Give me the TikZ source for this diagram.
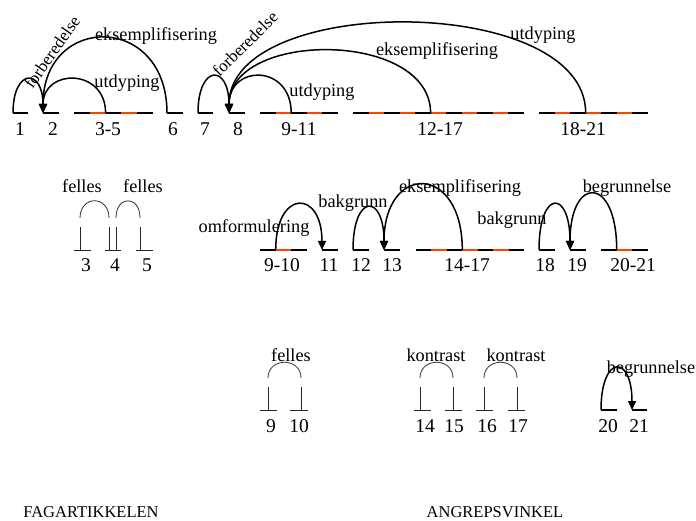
\documentclass[tikz,border=0pt]{standalone}
\usepackage{fontspec}
\setmainfont{Liberation Serif}
\usetikzlibrary{arrows.meta}
\definecolor{segred}{RGB}{255,69,0}
\newcommand\compseg[4]{%
  \draw[seg] (#1,#3) -- (#2,#3);
  \pgfmathsetmacro\segw{(#2-#1)/(2*#4+1)}
  \foreach \k in {1,...,#4}{
    \draw[redseg] ({#1+(2*\k-1)*\segw},#3) -- ({#1+2*\k*\segw},#3);
  }
}
\begin{document}
\begin{tikzpicture}[x=1pt,y=-1pt,
  arcline/.style={line width=1.5pt},
  arrowarc/.style={line width=1.5pt,-{Triangle[length=9pt,width=8pt]}},
  thinarc/.style={line width=0.8pt,draw=black!80},
  tee/.style={line width=0.9pt,draw=black!85},
  seg/.style={line width=1.5pt},
  redseg/.style={line width=1.5pt,draw=segred},
  num/.style={font=\fontsize{19.5}{20}\selectfont,anchor=base,inner sep=0pt},
  lab/.style={font=\fontsize{18.3}{19}\selectfont,anchor=base,inner sep=0pt},
  rlab/.style={font=\fontsize{17}{18}\selectfont,inner sep=0pt},
  ttl/.style={font=\fontsize{16.5}{17}\selectfont,anchor=base,inner sep=0pt}]
\useasboundingbox (0,0) rectangle (696,521);

% ================= Row 1 =================
\draw[seg] (13,113) -- (28,113);
\draw[seg] (43,113) -- (59,113);
\compseg{74}{153}{113}{2}
\draw[seg] (167,113) -- (183,113);
\draw[seg] (198,113) -- (213,113);
\draw[seg] (229,113) -- (245,113);
\compseg{260}{338}{113}{2}
\compseg{353}{524}{113}{5}
\compseg{539}{648}{113}{3}

\coordinate (a1) at (13,113);
\coordinate (a2) at (43,113);
\coordinate (a35) at (105.6,113);
\coordinate (a6) at (167,113);
\coordinate (a7) at (198,113);
\coordinate (a8) at (229,113);
\coordinate (a911) at (291.2,113);
\coordinate (a1217) at (430.6,113);
\coordinate (a1821) at (585.7,113);

\draw[arrowarc] (a1) .. controls +(0,-45) and +(0,-45) .. (a2);
\draw[arrowarc] (a35) .. controls +(0,-45) and +(0,-45) .. (a2);
\draw[arrowarc] (a6) .. controls +(0,-100) and +(0,-100) .. (a2);
\draw[arrowarc] (a7) .. controls +(0,-49) and +(0,-49) .. (a8);
\draw[arrowarc] (a911) .. controls +(0,-49) and +(0,-49) .. (a8);
\draw[arrowarc] (a1217) .. controls +(0,-83) and +(0,-83) .. (a8);
\draw[arrowarc] (a1821) .. controls +(0,-120) and +(0,-120) .. (a8);

\node[rlab,rotate=55] (l1) at (52,52) {forberedelse};
\node[lab] (l2) at (156,41) {eksemplifisering};
\node[lab] (l3) at (127,88) {utdyping};
\node[rlab,rotate=45] (l4) at (245,44) {forberedelse};
\node[lab] (l5) at (322,97) {utdyping};
\node[lab] (l6) at (437,56) {eksemplifisering};
\node[lab] (l7) at (543,40) {utdyping};

\node[num] (n1) at (20,136) {1};
\node[num] (n2) at (53,136) {2};
\node[num] (n35) at (108,136) {3-5};
\node[num] (n6) at (173,136) {6};
\node[num] (n7) at (205,136) {7};
\node[num] (n8) at (238,136) {8};
\node[num] (n911) at (299,136) {9-11};
\node[num] (n1217) at (440,136) {12-17};
\node[num] (n1821) at (583,136) {18-21};

% ================= Row 2 =================
% left tees
\draw[tee] (74,250) -- (91,250);
\draw[tee] (80,227) -- (80,250);
\draw[tee] (105,250) -- (121,250);
\draw[tee] (109,227) -- (109,250);
\draw[tee] (116,227) -- (116,250);
\draw[tee] (136,250) -- (153,250);
\draw[tee] (140,227) -- (140,250);
\coordinate (b3) at (80,218);
\coordinate (b4a) at (109,218);
\coordinate (b4b) at (116,218);
\coordinate (b5) at (140,218);
\draw[thinarc] (b3) .. controls +(0,-23) and +(0,-23) .. (b4a);
\draw[thinarc] (b4b) .. controls +(0,-23) and +(0,-23) .. (b5);
\node[lab] (m1) at (82,193) {felles};
\node[lab] (m2) at (143,193) {felles};
\node[num] (p3) at (86,272) {3};
\node[num] (p4) at (115,272) {4};
\node[num] (p5) at (147,272) {5};

% right part
\compseg{260}{307}{250}{1}
\draw[seg] (322,250) -- (338,250);
\draw[seg] (353,250) -- (369,250);
\draw[seg] (384,250) -- (400,250);
\compseg{416}{524}{250}{3}
\draw[seg] (539,250) -- (555,250);
\draw[seg] (570,250) -- (586,250);
\compseg{601}{648}{250}{1}

\coordinate (c910) at (275.7,250);
\coordinate (c11) at (322,250);
\coordinate (c12) at (353,250);
\coordinate (c13) at (384,250);
\coordinate (c1417) at (462.3,250);
\coordinate (c18) at (539,250);
\coordinate (c19) at (570,250);
\coordinate (c2021) at (616.7,250);

\draw[arrowarc] (c910) .. controls +(0,-61) and +(0,-61) .. (c11);
\draw[arrowarc] (c12) .. controls +(0,-57) and +(0,-57) .. (c13);
\draw[arrowarc] (c1417) .. controls +(0,-87) and +(0,-87) .. (c13);
\draw[arrowarc] (c18) .. controls +(0,-61) and +(0,-61) .. (c19);
\draw[arrowarc] (c2021) .. controls +(0,-75) and +(0,-75) .. (c19);

\node[lab] (m3) at (254,233) {omformulering};
\node[lab] (m4) at (353,208) {bakgrunn};
\node[lab] (m5) at (460,193) {eksemplifisering};
\node[lab] (m6) at (512,225) {bakgrunn};
\node[lab] (m7) at (627,193) {begrunnelse};

\node[num] (p910) at (282,272) {9-10};
\node[num] (p11) at (329,272) {11};
\node[num] (p12) at (361,272) {12};
\node[num] (p13) at (392,272) {13};
\node[num] (p1417) at (467,272) {14-17};
\node[num] (p18) at (545,272) {18};
\node[num] (p19) at (577,272) {19};
\node[num] (p2021) at (633,272) {20-21};

% ================= Row 3 =================
\draw[tee] (260,410) -- (277,410);
\draw[tee] (268,387) -- (268,410);
\draw[tee] (290,410) -- (308,410);
\draw[tee] (301,387) -- (301,410);
\draw[tee] (414,410) -- (431,410);
\draw[tee] (420,387) -- (420,410);
\draw[tee] (445,410) -- (462,410);
\draw[tee] (453,387) -- (453,410);
\draw[tee] (476,410) -- (493,410);
\draw[tee] (484,387) -- (484,410);
\draw[tee] (508,410) -- (525,410);
\draw[tee] (517,387) -- (517,410);
\coordinate (d9) at (268,378);
\coordinate (d10) at (301,378);
\coordinate (d14) at (420,378);
\coordinate (d15) at (453,378);
\coordinate (d16) at (484,378);
\coordinate (d17) at (517,378);
\draw[thinarc] (d9) .. controls +(0,-21) and +(0,-21) .. (d10);
\draw[thinarc] (d14) .. controls +(0,-21) and +(0,-21) .. (d15);
\draw[thinarc] (d16) .. controls +(0,-21) and +(0,-21) .. (d17);

\draw[seg] (601,410) -- (617,410);
\draw[seg] (632,410) -- (647,410);
\coordinate (d20) at (601,410);
\coordinate (d21) at (632,410);
\draw[arrowarc] (d20) .. controls +(0,-56) and +(0,-56) .. (d21);

\node[lab] (q1) at (291,361) {felles};
\node[lab] (q2) at (436,361) {kontrast};
\node[lab] (q3) at (516,361) {kontrast};
\node[lab] (q4) at (651,373) {begrunnelse};

\node[num] (r9) at (271,432) {9};
\node[num] (r10) at (299,432) {10};
\node[num] (r14) at (425,432) {14};
\node[num] (r15) at (454,432) {15};
\node[num] (r16) at (487,432) {16};
\node[num] (r17) at (518,432) {17};
\node[num] (r20) at (608,432) {20};
\node[num] (r21) at (639,432) {21};

% ================= Titles =================
\node[ttl] (t1) at (91,517) {FAGARTIKKELEN};
\node[ttl] (t2) at (495,517) {ANGREPSVINKEL};
\end{tikzpicture}
\end{document}
